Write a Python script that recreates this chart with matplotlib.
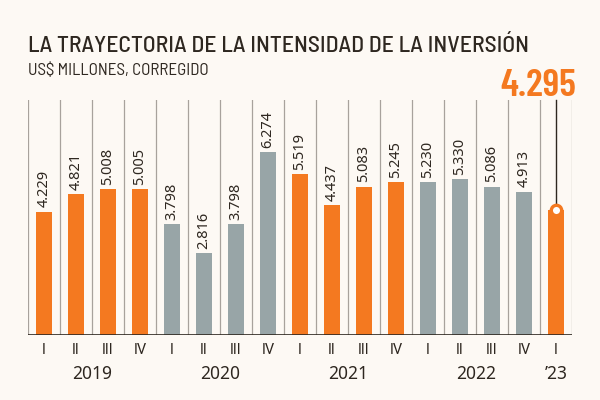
import matplotlib
matplotlib.use('Agg')
import matplotlib.pyplot as plt

quarters = ["I", "II", "III", "IV", "I", "II", "III", "IV", "I", "II", "III", "IV",
            "I", "II", "III", "IV", "I"]
values = [4.229, 4.821, 5.008, 5.005, 3.798, 2.816, 3.798, 6.274,
          5.519, 4.437, 5.083, 5.245, 5.230, 5.330, 5.086, 4.913, 4.295]
value_labels = ["4.229", "4.821", "5.008", "5.005", "3.798", "2.816", "3.798", "6.274",
                "5.519", "4.437", "5.083", "5.245", "5.230", "5.330", "5.086", "4.913", ""]
years = ["2019", "2020", "2021", "2022", "\u201923"]
year_groups = [(0, 3), (4, 7), (8, 11), (12, 15), (16, 16)]
year_is_orange = [True, False, True, False, True]
highlight_label = "4.295"
title = "LA TRAYECTORIA DE LA INTENSIDAD DE LA INVERSIÓN"
subtitle = "US$ MILLONES, CORREGIDO"

BG = "#fdf9f4"
ORANGE = "#f47920"
GREY = "#98a5a7"
DARK = "#2e2720"
GRID = "#a8a29c"

fig = plt.figure(figsize=(6, 4), dpi=100, facecolor=BG)
ax = fig.add_axes([28 / 600, 65 / 400, 544 / 600, 235 / 400])
ax.set_facecolor(BG)

colors = []
for (a, b), orange in zip(year_groups, year_is_orange):
    colors += [ORANGE if orange else GREY] * (b - a + 1)

x = list(range(len(values)))
ax.set_xlim(-0.5, len(values) - 0.5)
ax.set_ylim(0, 8.05)

for i in range(len(values) + 1):
    ax.axvline(i - 0.5, color=GRID, lw=0.9, zorder=0)

ax.bar(x, values, width=0.5, color=colors, zorder=2)
ax.axhline(0, color=DARK, lw=1.2, zorder=3, xmin=0, xmax=1)

for xi, v, lab in zip(x, values, value_labels):
    if lab:
        ax.annotate(lab, (xi, v), xytext=(0, 3), textcoords="offset points",
                    rotation=90, ha="center", va="bottom", fontsize=10.5,
                    family="Noto Sans", color=DARK, zorder=4)

# highlight last bar
last = len(values) - 1
ax.plot([last, last], [values[last], 8.05], color=DARK, lw=1, zorder=3, clip_on=False)
ax.plot([last], [values[last]], marker="o", ms=7.5, mfc="white", mec=ORANGE, mew=2.4,
        zorder=5, clip_on=False)

ax.set_xticks(x)
ax.set_xticklabels(quarters, fontsize=10.5, family="Roboto", color=DARK)
ax.tick_params(axis="x", length=0, pad=6)
ax.set_yticks([])
for s in ax.spines.values():
    s.set_visible(False)

for yl, (a, b) in zip(years, year_groups):
    ax.text((a + b) / 2, -30 / 235, yl, transform=ax.get_xaxis_transform(),
            ha="center", va="top", fontsize=12.5, family="Noto Sans", color=DARK)

fig.text(28 / 600, 1 - 52 / 400, title, fontsize=17, family="Barlow Semi Condensed",
         fontweight="medium", color=DARK, ha="left", va="baseline")
fig.text(28 / 600, 1 - 75 / 400, subtitle, fontsize=12.3, family="Barlow Semi Condensed",
         color=DARK, ha="left", va="baseline")
fig.text(576 / 600, 1 - 96 / 400, highlight_label, fontsize=28, family="Barlow Condensed",
         fontweight="semibold", color=ORANGE, ha="right", va="baseline")

fig.savefig("out.png", dpi=100, facecolor=BG)
